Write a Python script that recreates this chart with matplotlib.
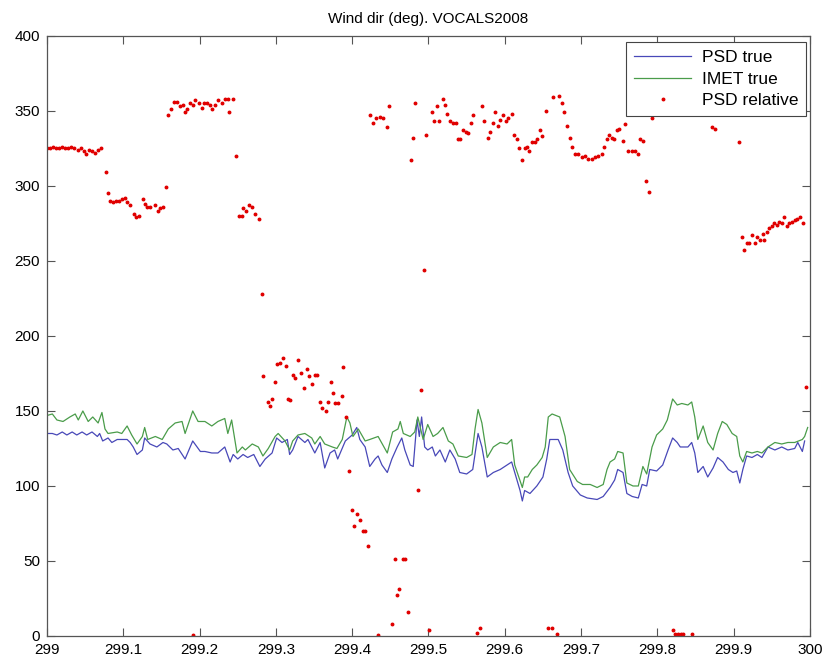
import matplotlib
matplotlib.use("Agg")
import matplotlib.pyplot as plt

# PSD true wind direction (deg) vs day of year
psd_x = [299.000, 299.007, 299.013, 299.020, 299.026, 299.033, 299.039, 299.046, 299.052, 299.059,
         299.066, 299.069, 299.073, 299.080, 299.085, 299.092, 299.098, 299.105, 299.109, 299.113,
         299.118, 299.125, 299.128, 299.135, 299.144, 299.152, 299.157, 299.165, 299.172, 299.181,
         299.191, 299.201, 299.207, 299.216, 299.224, 299.233, 299.240, 299.244, 299.250, 299.257,
         299.263, 299.271, 299.279, 299.286, 299.295, 299.301, 299.308, 299.315, 299.318, 299.322,
         299.329, 299.338, 299.342, 299.351, 299.358, 299.364, 299.371, 299.377, 299.381, 299.391,
         299.400, 299.406, 299.410, 299.417, 299.423, 299.430, 299.434, 299.439, 299.446, 299.452,
         299.459, 299.465, 299.469, 299.476, 299.480, 299.485, 299.488, 299.491, 299.495, 299.499,
         299.505, 299.509, 299.515, 299.522, 299.528, 299.535, 299.541, 299.550, 299.558, 299.565,
         299.570, 299.577, 299.585, 299.594, 299.603, 299.609, 299.613, 299.620, 299.623, 299.626,
         299.633, 299.642, 299.650, 299.655, 299.659, 299.670, 299.676, 299.683, 299.689, 299.699,
         299.708, 299.721, 299.729, 299.738, 299.744, 299.748, 299.755, 299.760, 299.767, 299.775,
         299.780, 299.786, 299.790, 299.799, 299.807, 299.814, 299.820, 299.826, 299.830, 299.840,
         299.845, 299.849, 299.853, 299.860, 299.866, 299.873, 299.879, 299.886, 299.893, 299.899,
         299.904, 299.908, 299.912, 299.917, 299.924, 299.931, 299.937, 299.945, 299.954, 299.963,
         299.971, 299.980, 299.984, 299.990, 299.993]
psd_true = [135, 135, 134, 136, 134, 136, 134, 136, 134, 136,
            133, 135, 130, 132, 129, 131, 131, 131, 129, 126,
            121, 124, 132, 128, 126, 129, 128, 124, 125, 118,
            130, 123, 123, 122, 122, 126, 116, 121, 118, 121,
            119, 121, 113, 118, 122, 132, 129, 131, 121, 124,
            133, 129, 131, 122, 129, 112, 122, 124, 118, 130,
            134, 139, 131, 126, 113, 118, 120, 114, 109, 118,
            126, 132, 124, 114, 113, 144, 133, 146, 126, 124,
            126, 120, 124, 116, 124, 118, 109, 108, 111, 135,
            126, 106, 109, 111, 114, 116, 109, 97, 90, 97,
            95, 100, 106, 118, 131, 131, 124, 109, 100, 94,
            92, 91, 93, 99, 104, 111, 109, 95, 93, 92,
            101, 100, 111, 110, 114, 124, 132, 129, 126, 126,
            129, 122, 109, 113, 106, 112, 119, 116, 111, 109,
            110, 102, 111, 120, 119, 121, 119, 126, 124, 126,
            124, 125, 129, 123, 130]

# IMET true wind direction (deg)
imet_x = [299.000, 299.007, 299.013, 299.021, 299.030, 299.037, 299.041, 299.047, 299.054, 299.060,
          299.067, 299.072, 299.076, 299.080, 299.092, 299.098, 299.105, 299.111, 299.118, 299.125,
          299.128, 299.132, 299.142, 299.151, 299.159, 299.168, 299.177, 299.181, 299.191, 299.198,
          299.207, 299.216, 299.224, 299.233, 299.237, 299.242, 299.249, 299.256, 299.260, 299.269,
          299.277, 299.283, 299.290, 299.299, 299.303, 299.312, 299.318, 299.322, 299.329, 299.338,
          299.347, 299.351, 299.358, 299.364, 299.374, 299.380, 299.387, 299.393, 299.397, 299.401,
          299.408, 299.417, 299.423, 299.434, 299.446, 299.453, 299.460, 299.463, 299.467, 299.476,
          299.482, 299.486, 299.493, 299.499, 299.506, 299.512, 299.519, 299.526, 299.532, 299.539,
          299.550, 299.557, 299.561, 299.565, 299.570, 299.577, 299.585, 299.594, 299.603, 299.609,
          299.613, 299.623, 299.626, 299.630, 299.636, 299.642, 299.649, 299.653, 299.657, 299.662,
          299.672, 299.679, 299.685, 299.695, 299.702, 299.712, 299.721, 299.729, 299.734, 299.738,
          299.744, 299.748, 299.755, 299.760, 299.768, 299.775, 299.781, 299.786, 299.793, 299.799,
          299.807, 299.813, 299.817, 299.820, 299.826, 299.832, 299.840, 299.845, 299.849, 299.853,
          299.860, 299.866, 299.873, 299.879, 299.885, 299.891, 299.898, 299.904, 299.908, 299.912,
          299.917, 299.924, 299.931, 299.937, 299.945, 299.954, 299.963, 299.971, 299.980, 299.990,
          299.993, 299.997]
imet_true = [147, 148, 144, 143, 146, 148, 144, 150, 143, 146,
             142, 149, 138, 135, 136, 135, 140, 134, 128, 133,
             139, 131, 133, 131, 138, 142, 143, 135, 150, 143,
             143, 140, 143, 145, 135, 144, 122, 126, 124, 128,
             126, 120, 125, 133, 135, 130, 124, 130, 134, 135,
             132, 128, 133, 128, 126, 125, 131, 146, 142, 133,
             138, 130, 131, 133, 122, 136, 138, 143, 135, 133,
             136, 146, 131, 141, 133, 135, 139, 130, 128, 120,
             119, 121, 138, 151, 142, 119, 126, 129, 128, 131,
             114, 99, 106, 106, 111, 114, 119, 126, 146, 148,
             146, 133, 111, 103, 101, 101, 99, 101, 111, 116,
             118, 123, 122, 102, 100, 100, 113, 108, 126, 134,
             138, 144, 152, 158, 154, 155, 154, 156, 146, 131,
             140, 129, 124, 135, 143, 141, 135, 133, 120, 116,
             123, 122, 123, 122, 126, 129, 128, 129, 129, 131,
             133, 139]

# PSD relative wind direction (deg), individual samples
rel_x = [299.000, 299.004, 299.008, 299.012, 299.016, 299.020, 299.024, 299.028, 299.032, 299.036,
         299.040, 299.044, 299.048, 299.051, 299.055, 299.059, 299.063, 299.067, 299.071,
         299.077, 299.080, 299.083, 299.087, 299.090, 299.094, 299.098, 299.102, 299.105, 299.109,
         299.114, 299.117, 299.121, 299.126, 299.128, 299.131, 299.135, 299.142, 299.145, 299.148,
         299.152, 299.156, 299.159, 299.163, 299.166, 299.170, 299.174, 299.178, 299.181, 299.183,
         299.187, 299.191, 299.194, 299.199, 299.203, 299.206, 299.210, 299.214, 299.216, 299.220,
         299.224, 299.229, 299.233, 299.237, 299.239, 299.244, 299.248, 299.252, 299.256, 299.257,
         299.261, 299.265, 299.269, 299.273, 299.278, 299.282,
         299.283, 299.290, 299.292, 299.295, 299.299, 299.301, 299.305, 299.309, 299.313, 299.316,
         299.318, 299.322, 299.325, 299.329, 299.333, 299.337, 299.341, 299.343, 299.347, 299.351,
         299.354, 299.358, 299.360, 299.366, 299.368, 299.372, 299.375, 299.377, 299.381, 299.387,
         299.388, 299.392, 299.396, 299.400, 299.402, 299.406, 299.410, 299.414, 299.417, 299.421,
         299.191, 299.434, 299.452, 299.456, 299.459, 299.461, 299.467, 299.469, 299.473, 299.486,
         299.490, 299.494, 299.501, 299.564, 299.567, 299.657, 299.662, 299.668, 299.820, 299.823,
         299.827, 299.831, 299.834, 299.845, 299.995,
         299.423, 299.427, 299.431, 299.436, 299.440, 299.446, 299.448, 299.477, 299.480, 299.482,
         299.497, 299.505, 299.507, 299.511, 299.514, 299.519, 299.522, 299.524, 299.528, 299.532,
         299.536, 299.539, 299.541, 299.545, 299.549, 299.552, 299.556, 299.558, 299.570, 299.573,
         299.578, 299.581, 299.585, 299.587, 299.591, 299.594, 299.598, 299.602, 299.604, 299.609,
         299.612, 299.616, 299.619, 299.623, 299.626, 299.629, 299.632, 299.636, 299.640, 299.642,
         299.646, 299.649, 299.654, 299.663, 299.671, 299.675, 299.678, 299.682, 299.685, 299.688,
         299.692, 299.696, 299.701, 299.705, 299.709, 299.714, 299.718, 299.722, 299.727, 299.730,
         299.734, 299.737, 299.740, 299.743, 299.747, 299.750, 299.755, 299.758, 299.761, 299.767,
         299.771, 299.775, 299.777, 299.781, 299.785, 299.789, 299.793, 299.872, 299.876, 299.907,
         299.911, 299.914, 299.917, 299.920, 299.924, 299.928, 299.931, 299.934, 299.938, 299.940,
         299.944, 299.946, 299.950, 299.953, 299.957, 299.959, 299.963, 299.966, 299.970, 299.972,
         299.976, 299.980, 299.983, 299.987, 299.991]
psd_rel = [325, 325, 326, 325, 325, 326, 325, 325, 326, 325,
           324, 325, 323, 321, 324, 323, 322, 324, 325,
           309, 295, 290, 289, 290, 290, 291, 292, 289, 287,
           281, 279, 280, 291, 288, 286, 286, 287, 283, 285,
           286, 299, 347, 351, 356, 356, 353, 354, 349, 351,
           355, 354, 357, 355, 352, 355, 355, 354, 351, 354,
           357, 355, 358, 358, 349, 358, 320, 280, 280, 285,
           283, 287, 286, 281, 278, 228,
           173, 156, 153, 158, 169, 181, 182, 185, 180, 158,
           157, 174, 172, 184, 175, 165, 178, 173, 168, 174,
           174, 156, 152, 150, 156, 169, 162, 155, 155, 160,
           179, 146, 110, 84, 73, 81, 77, 70, 70, 60,
           0.5, 0.5, 8, 51, 27, 31, 51, 51, 16, 97,
           164, 244, 4, 2, 5, 5, 5, 1, 4, 1,
           1, 1, 1, 1, 166,
           347, 342, 345, 346, 345, 339, 353, 317, 332, 355,
           334, 349, 343, 353, 343, 358, 354, 348, 343, 342,
           342, 331, 331, 337, 336, 335, 342, 347, 353, 343,
           332, 336, 342, 349, 340, 344, 347, 343, 345, 348,
           334, 331, 325, 317, 325, 326, 323, 329, 329, 331,
           337, 333, 350, 359, 360, 355, 349, 340, 332, 326,
           321, 321, 319, 320, 318, 318, 319, 320, 321, 326,
           331, 334, 332, 331, 337, 338, 330, 341, 323, 323,
           323, 321, 331, 330, 303, 296, 345, 339, 338, 329,
           266, 257, 262, 262, 267, 262, 266, 264, 268, 264,
           269, 272, 273, 275, 274, 276, 275, 279, 273, 275,
           276, 277, 278, 279, 275]

plt.rcParams['font.family'] = ['Liberation Sans', 'DejaVu Sans']

fig = plt.figure(figsize=(8.26, 6.64), dpi=100)
ax = fig.add_axes([0.0569, 0.0422, 0.9237, 0.9036])

ax.plot(psd_x, psd_true, color='#4848b8', lw=0.9, label='PSD true')
ax.plot(imet_x, imet_true, color='#4a9c4a', lw=0.9, label='IMET true')
ax.plot(rel_x, psd_rel, '.', color='#e00000', ms=3.6, label='PSD relative')

ax.set_xlim(299, 300)
ax.set_ylim(0, 400)
ax.set_xticks([299 + i / 10 for i in range(11)])
ax.set_xticklabels(['299', '299.1', '299.2', '299.3', '299.4', '299.5',
                    '299.6', '299.7', '299.8', '299.9', '300'])
ax.set_yticks(range(0, 401, 50))
ax.tick_params(direction='in', top=True, right=True, length=6, width=0.8,
               labelsize=11, color='#555555', pad=5)
for s in ax.spines.values():
    s.set_color('#555555')
    s.set_linewidth(0.9)

ax.set_title('Wind dir (deg). VOCALS2008', fontsize=11, pad=9)

leg = ax.legend(loc='upper right', bbox_to_anchor=(0.995, 0.99), borderaxespad=0,
                fancybox=False, edgecolor='#444444', framealpha=1, fontsize=12.5,
                handlelength=3.3, labelspacing=0.38, borderpad=0.45, handletextpad=0.6)
leg.get_frame().set_linewidth(0.8)

fig.savefig('out.png', dpi=100)
